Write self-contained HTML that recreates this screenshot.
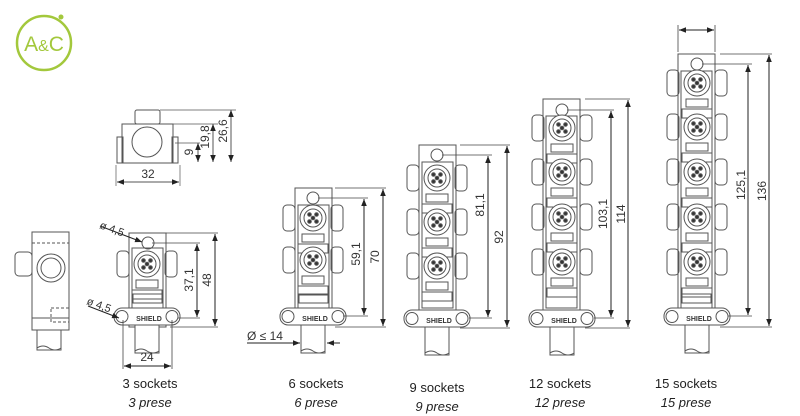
<!DOCTYPE html>
<html><head><style>
html,body{margin:0;padding:0;background:#fff;}
svg{display:block;font-family:"Liberation Sans",sans-serif;}
</style></head><body>
<svg width="800" height="416" viewBox="0 0 800 416" xmlns="http://www.w3.org/2000/svg">
<defs>
<marker id="a" viewBox="0 0 10 10" refX="10" refY="5" markerWidth="7" markerHeight="7" orient="auto-start-reverse"><path d="M0,1 L10,5 L0,9z" fill="#222"/></marker>
<g id="u" fill="none" stroke="#555" stroke-width="1">
<rect x="-30" y="-13" width="12" height="26" rx="4"/>
<rect x="18" y="-13" width="12" height="26" rx="4"/>
<circle r="13" fill="#fff"/>
<circle r="9"/>
<circle cx="-3.5" cy="-3.5" r="1.8" fill="#333"/><circle cx="3.5" cy="-3.5" r="1.8" fill="#333"/>
<circle cx="-3.5" cy="3.5" r="1.8" fill="#333"/><circle cx="3.5" cy="3.5" r="1.8" fill="#333"/>
<circle r="1.8" fill="#333"/>
<rect x="-11" y="16" width="22" height="8"/>
<rect x="-15" y="26" width="30" height="9"/>
</g>
<g id="f" fill="none" stroke="#555" stroke-width="1">
<rect x="-33" y="0" width="66" height="17" rx="8" fill="#fff"/>
<circle cx="-25" cy="8.5" r="6"/><circle cx="25" cy="8.5" r="6"/>
<rect x="-12" y="17" width="24" height="28" fill="#fff"/>
<path d="M-12,43 q6,-4 12,0 t12,0"/>
</g>
</defs>

<circle cx="44" cy="43" r="27" fill="none" stroke="#a3c83c" stroke-width="2.5"/>
<circle cx="61" cy="17" r="2.5" fill="#a3c83c"/>
<text x="44" y="51" font-size="21" fill="#a3c83c" text-anchor="middle">A<tspan font-size="16">&amp;</tspan>C</text>

<g fill="none" stroke="#555" stroke-width="1">
<rect x="135" y="110" width="25" height="14" rx="2"/>
<rect x="122" y="124" width="51" height="39"/>
<rect x="117" y="137" width="6" height="26"/><rect x="172" y="137" width="6" height="26"/>
<circle cx="147" cy="142" r="15"/>
<line x1="160" y1="110" x2="236" y2="110" stroke-width=".7"/>
<line x1="160" y1="124" x2="218" y2="124" stroke-width=".7"/>
<line x1="175" y1="143" x2="200" y2="143" stroke-width=".7"/>
<line x1="116" y1="165" x2="116" y2="186" stroke-width=".7"/><line x1="180" y1="165" x2="180" y2="186" stroke-width=".7"/>
<line x1="117" y1="182" x2="179" y2="182" marker-start="url(#a)" marker-end="url(#a)"/>
<line x1="198" y1="143" x2="198" y2="162" marker-start="url(#a)" marker-end="url(#a)"/>
<line x1="213" y1="124" x2="213" y2="162" marker-start="url(#a)" marker-end="url(#a)"/>
<line x1="231" y1="110" x2="231" y2="162" marker-start="url(#a)" marker-end="url(#a)"/>

<rect x="32" y="232" width="37" height="98"/>
<line x1="32" y1="243" x2="69" y2="243" stroke-dasharray="3,2"/>
<rect x="15" y="252" width="17" height="24" rx="4"/>
<circle cx="51" cy="268" r="14"/><circle cx="51" cy="268" r="10"/>
<rect x="51" y="308" width="18" height="14" stroke-dasharray="3,2"/>
<line x1="32" y1="318" x2="69" y2="318"/>
<rect x="37" y="330" width="24" height="20"/>
<path d="M37,348 q6,-4 12,0 t12,0"/>

<rect x="129" y="233" width="37" height="94"/>
<rect x="132" y="248" width="31" height="60"/>
<circle cx="148" cy="243" r="6"/>
</g>
<use href="#u" x="147" y="264"/>
<use href="#f" x="147" y="308"/>
<g fill="none" stroke="#444" stroke-width=".8">
<line x1="166" y1="233" x2="218" y2="233"/><line x1="152" y1="243" x2="200" y2="243"/>
<line x1="178" y1="318" x2="200" y2="318"/><line x1="170" y1="327" x2="218" y2="327"/>
<line x1="123" y1="320" x2="123" y2="369"/><line x1="172" y1="320" x2="172" y2="369"/>
</g>
<g stroke="#222" stroke-width="1">
<line x1="124" y1="366" x2="171" y2="366" marker-start="url(#a)" marker-end="url(#a)"/>
<line x1="197" y1="244" x2="197" y2="317" marker-start="url(#a)" marker-end="url(#a)"/>
<line x1="215" y1="234" x2="215" y2="326" marker-start="url(#a)" marker-end="url(#a)"/>
<line x1="100" y1="226" x2="142" y2="242" marker-end="url(#a)"/>
<line x1="88" y1="306" x2="119" y2="318" marker-end="url(#a)"/>
<line x1="247" y1="343" x2="300" y2="343" marker-end="url(#a)"/>
<line x1="340" y1="343" x2="327" y2="343" marker-end="url(#a)"/>
</g>

<g fill="none" stroke="#555" stroke-width="1">
<rect x="295" y="188" width="37" height="137"/><rect x="298" y="205" width="31" height="103"/>
<circle cx="313" cy="198" r="6"/>
<rect x="299" y="294" width="29" height="9"/>
<rect x="419" y="145" width="37" height="180"/><rect x="422" y="162" width="31" height="146"/>
<circle cx="437" cy="155" r="6"/>
<rect x="543" y="99" width="37" height="226"/><rect x="546" y="116" width="31" height="192"/>
<circle cx="562" cy="110" r="6"/>
<rect x="678" y="54" width="37" height="271"/><rect x="681" y="71" width="31" height="237"/>
<circle cx="697" cy="64" r="6"/>
<rect x="682" y="294" width="29" height="9"/>
<rect x="133" y="294" width="29" height="9"/>
</g>
<use href="#u" x="313" y="218"/><use href="#u" x="313" y="260"/>
<use href="#f" x="313" y="308"/>
<use href="#u" x="437" y="178"/><use href="#u" x="437" y="222"/><use href="#u" x="437" y="266"/>
<use href="#f" x="437" y="310"/>
<use href="#u" x="562" y="128"/><use href="#u" x="562" y="172"/><use href="#u" x="562" y="217"/><use href="#u" x="562" y="262"/>
<use href="#f" x="562" y="310"/>
<use href="#u" x="697" y="83"/><use href="#u" x="697" y="127"/><use href="#u" x="697" y="172"/><use href="#u" x="697" y="217"/><use href="#u" x="697" y="262"/>
<use href="#f" x="697" y="308"/>

<g fill="none" stroke="#444" stroke-width=".8">
<line x1="335" y1="188" x2="386" y2="188"/><line x1="318" y1="198" x2="368" y2="198"/>
<line x1="343" y1="316" x2="368" y2="316"/><line x1="335" y1="327" x2="386" y2="327"/>
<line x1="460" y1="145" x2="510" y2="145"/><line x1="442" y1="155" x2="492" y2="155"/>
<line x1="469" y1="318" x2="492" y2="318"/><line x1="460" y1="328" x2="510" y2="328"/>
<line x1="585" y1="99" x2="630" y2="99"/><line x1="567" y1="110" x2="614" y2="110"/>
<line x1="594" y1="318" x2="614" y2="318"/><line x1="585" y1="328" x2="630" y2="328"/>
<line x1="720" y1="54" x2="772" y2="54"/><line x1="702" y1="64" x2="752" y2="64"/>
<line x1="728" y1="316" x2="752" y2="316"/><line x1="720" y1="327" x2="772" y2="327"/>
<line x1="678" y1="25" x2="678" y2="52"/><line x1="715" y1="25" x2="715" y2="52"/>
</g>
<g stroke="#222" stroke-width="1">
<line x1="364" y1="199" x2="364" y2="315" marker-start="url(#a)" marker-end="url(#a)"/>
<line x1="383" y1="189" x2="383" y2="326" marker-start="url(#a)" marker-end="url(#a)"/>
<line x1="488" y1="156" x2="488" y2="317" marker-start="url(#a)" marker-end="url(#a)"/>
<line x1="507" y1="146" x2="507" y2="327" marker-start="url(#a)" marker-end="url(#a)"/>
<line x1="611" y1="111" x2="611" y2="317" marker-start="url(#a)" marker-end="url(#a)"/>
<line x1="628" y1="100" x2="628" y2="327" marker-start="url(#a)" marker-end="url(#a)"/>
<line x1="748" y1="65" x2="748" y2="315" marker-start="url(#a)" marker-end="url(#a)"/>
<line x1="769" y1="55" x2="769" y2="326" marker-start="url(#a)" marker-end="url(#a)"/>
<line x1="679" y1="30" x2="714" y2="30" marker-start="url(#a)" marker-end="url(#a)"/>
</g>

<g font-size="12" fill="#333" text-anchor="middle">
<text transform="translate(193,152) rotate(-90)">9</text>
<text transform="translate(209,137) rotate(-90)">19,8</text>
<text transform="translate(227,131) rotate(-90)">26,6</text>
<text x="148" y="178">32</text>
<text transform="translate(193,280) rotate(-90)">37,1</text>
<text transform="translate(211,280) rotate(-90)">48</text>
<text x="147" y="361">24</text>
<text transform="translate(360,254) rotate(-90)">59,1</text>
<text transform="translate(379,257) rotate(-90)">70</text>
<text transform="translate(484,205) rotate(-90)">81,1</text>
<text transform="translate(503,237) rotate(-90)">92</text>
<text transform="translate(607,214) rotate(-90)">103,1</text>
<text transform="translate(625,214) rotate(-90)">114</text>
<text transform="translate(745,185) rotate(-90)">125,1</text>
<text transform="translate(766,191) rotate(-90)">136</text>
</g>
<g font-size="11" fill="#333">
<text x="99" y="228" transform="rotate(20 99 228)">ø 4,5</text>
<text x="86" y="304" transform="rotate(20 86 304)">ø 4,5</text>
<text x="247" y="340" font-size="12">Ø ≤ 14</text>
</g>
<g font-size="7" font-weight="bold" fill="#333" text-anchor="middle">
<text x="149" y="321">SHIELD</text><text x="315" y="321">SHIELD</text>
<text x="439" y="323">SHIELD</text><text x="564" y="323">SHIELD</text><text x="699" y="321">SHIELD</text>
</g>
<g font-size="13" fill="#222" text-anchor="middle">
<text x="150" y="388">3 sockets</text><text x="150" y="407" font-style="italic">3 prese</text>
<text x="316" y="388">6 sockets</text><text x="316" y="407" font-style="italic">6 prese</text>
<text x="437" y="392">9 sockets</text><text x="437" y="411" font-style="italic">9 prese</text>
<text x="560" y="388">12 sockets</text><text x="560" y="407" font-style="italic">12 prese</text>
<text x="686" y="388">15 sockets</text><text x="686" y="407" font-style="italic">15 prese</text>
</g>
</svg>
</body></html>
